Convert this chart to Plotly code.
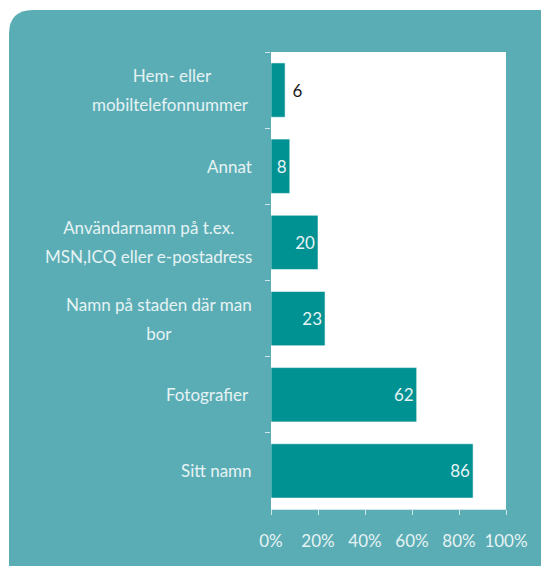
import plotly.graph_objects as go

categories = [
    "Hem- eller<br>mobiltelefonnummer ",
    "Annat",
    "Användarnamn på t.ex.<br>MSN,ICQ eller e-postadress",
    "Namn på staden där man<br>bor",
    "Fotografier ",
    "Sitt namn",
]
values = [6, 8, 20, 23, 62, 86]
x_tickvals = [0, 20, 40, 60, 80, 100]
x_ticktext = ["0%", "20%", "40%", "60%", "80%", "100%"]

W, H = 541, 566
L, R, T, B = 271, 35, 52, 57
pw, ph = W - L - R, H - T - B

BG = "#5badb5"
BAR = "#009193"
LIGHT = "#e6f3f4"
FONT = "Lato"
FS = 17


def px(x):
    return (x - L) / pw


def py(y):
    return (H - B - y) / ph


# rounded rectangle background (pixel coordinates converted to paper)
x0, x1, y0, y1, r = 9, 580, 10, 600, 24
path = (
    f"M {px(x0 + r)} {py(y0)} L {px(x1 - r)} {py(y0)} "
    f"Q {px(x1)} {py(y0)} {px(x1)} {py(y0 + r)} "
    f"L {px(x1)} {py(y1 - r)} Q {px(x1)} {py(y1)} {px(x1 - r)} {py(y1)} "
    f"L {px(x0 + r)} {py(y1)} Q {px(x0)} {py(y1)} {px(x0)} {py(y1 - r)} "
    f"L {px(x0)} {py(y0 + r)} Q {px(x0)} {py(y0)} {px(x0 + r)} {py(y0)} Z"
)

positions = ["outside" if v < 7 else "inside" for v in values]
labels = [("\u00a0" + str(v)) if p == "outside" else str(v) for v, p in zip(values, positions)]

fig = go.Figure()
fig.add_trace(
    go.Bar(
        x=values,
        y=categories,
        orientation="h",
        marker=dict(color=BAR, line=dict(color="rgba(255,255,255,0.55)", width=1)),
        text=labels,
        textposition=positions,
        insidetextanchor="end",
        insidetextfont=dict(color=LIGHT, size=FS, family=FONT),
        outsidetextfont=dict(color="#1a1a1a", size=FS, family=FONT),
        cliponaxis=False,
        hoverinfo="skip",
    )
)

annotations = []
for c in categories:
    annotations.append(
        dict(
            x=0,
            xref="paper",
            y=c,
            yref="y",
            xanchor="right",
            yanchor="middle",
            xshift=-17,
            align="center",
            showarrow=False,
            text=f"<span style='font-size:{FS}px'>{c}</span>",
            font=dict(size=22, color=LIGHT, family=FONT),
        )
    )

fig.update_layout(
    width=W,
    height=H,
    margin=dict(l=L, r=R, t=T, b=B, pad=0),
    paper_bgcolor="white",
    plot_bgcolor="rgba(0,0,0,0)",
    bargap=0.287,
    showlegend=False,
    font=dict(family=FONT, size=FS, color=LIGHT),
    shapes=[
        dict(type="path", path=path, xref="paper", yref="paper",
             fillcolor=BG, line=dict(width=0), layer="below"),
        dict(type="rect", x0=0, x1=1, y0=0, y1=1, xref="paper", yref="paper",
             fillcolor="white", line=dict(width=0), layer="below"),
    ],
    annotations=annotations,
    xaxis=dict(
        range=[0, 100],
        tickvals=x_tickvals,
        ticktext=x_ticktext,
        showgrid=False,
        zeroline=False,
        showline=True,
        linecolor="#cfe7e9",
        linewidth=1,
        ticks="outside",
        ticklen=5,
        tickcolor="#cfe7e9",
        ticklabelstandoff=12,
        tickfont=dict(family=FONT, size=FS, color=LIGHT),
        fixedrange=True,
    ),
    yaxis=dict(
        type="category",
        categoryorder="array",
        categoryarray=categories,
        autorange="reversed",
        showticklabels=False,
        ticks="outside",
        tickson="boundaries",
        ticklen=5,
        tickcolor="#cfe7e9",
        showgrid=False,
        zeroline=False,
        showline=False,
        fixedrange=True,
    ),
)

fig.write_html(
    "out.html",
    config={"displayModeBar": False},
    post_script="document.body.style.margin='0';document.body.style.overflow='hidden';",
)
